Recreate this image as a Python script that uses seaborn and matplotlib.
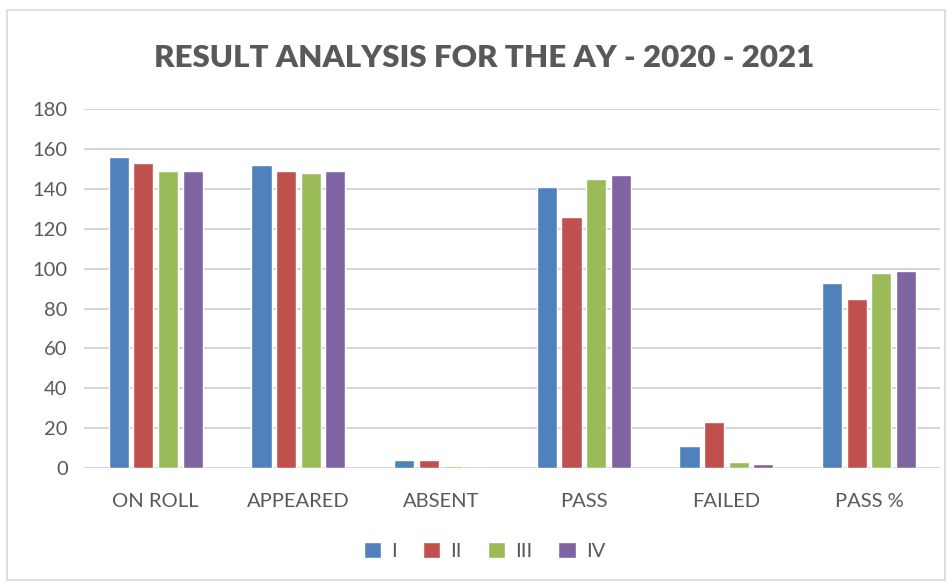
import seaborn as sns
import matplotlib.pyplot as plt
import pandas as pd
from matplotlib.patches import Rectangle

sns.set_style("white")
plt.rcParams['font.family'] = ['Lato', 'DejaVu Sans']

# ---- Data ----
categories = ["ON ROLL", "APPEARED", "ABSENT", "PASS", "FAILED", "PASS %"]
series = ["I", "II", "III", "IV"]
values_I = [156, 152, 4, 141, 11, 92.8]
values_II = [153, 149, 4, 126, 23, 84.6]
values_III = [149, 148, 1, 145, 3, 98.0]
values_IV = [149, 149, 0, 147, 2, 98.7]
colors = ["#4F81BD", "#C0504D", "#9BBB59", "#8064A2"]

rows = []
for name, vals in zip(series, [values_I, values_II, values_III, values_IV]):
    for cat, v in zip(categories, vals):
        rows.append({"Category": cat, "Year": name, "Value": v})
df = pd.DataFrame(rows)

fig = plt.figure(figsize=(9.48, 5.83), dpi=100)
ax = fig.add_axes([0.089, 0.197, 0.903, 0.616])

sns.barplot(data=df, x="Category", y="Value", hue="Year", palette=colors,
            width=0.69, gap=0.18, saturation=1, ax=ax, zorder=3)

ax.set_ylim(0, 180)
ax.set_yticks(range(0, 181, 20))
ax.yaxis.grid(True, color="#D4D4D4", linewidth=1.4, zorder=0)
ax.set_axisbelow(True)
for s in ax.spines.values():
    s.set_visible(False)
ax.tick_params(axis="both", length=0, labelsize=14.5, colors="#595959")
ax.tick_params(axis="x", pad=18)
ax.tick_params(axis="y", pad=12)
ax.set_xlabel("")
ax.set_ylabel("")

fig.text(0.511, 0.9, "RESULT ANALYSIS FOR THE AY - 2020 - 2021", ha="center", va="center",
         fontsize=22.5, fontweight="heavy", color="#595959")

handles, labels = ax.get_legend_handles_labels()
ax.legend(handles, labels, loc="center", bbox_to_anchor=(0.511, 0.055), bbox_transform=fig.transFigure,
          ncol=4, frameon=False, fontsize=14.5, labelcolor="#595959", handlelength=0.85, handleheight=0.85,
          handletextpad=0.5, columnspacing=1.3)

fig.patches.append(Rectangle((0.007, 0.005), 0.99, 0.978, transform=fig.transFigure,
                             fill=False, edgecolor="#D9D9D9", linewidth=1.2))

fig.savefig("out.png", dpi=100)
plt.close(fig)
